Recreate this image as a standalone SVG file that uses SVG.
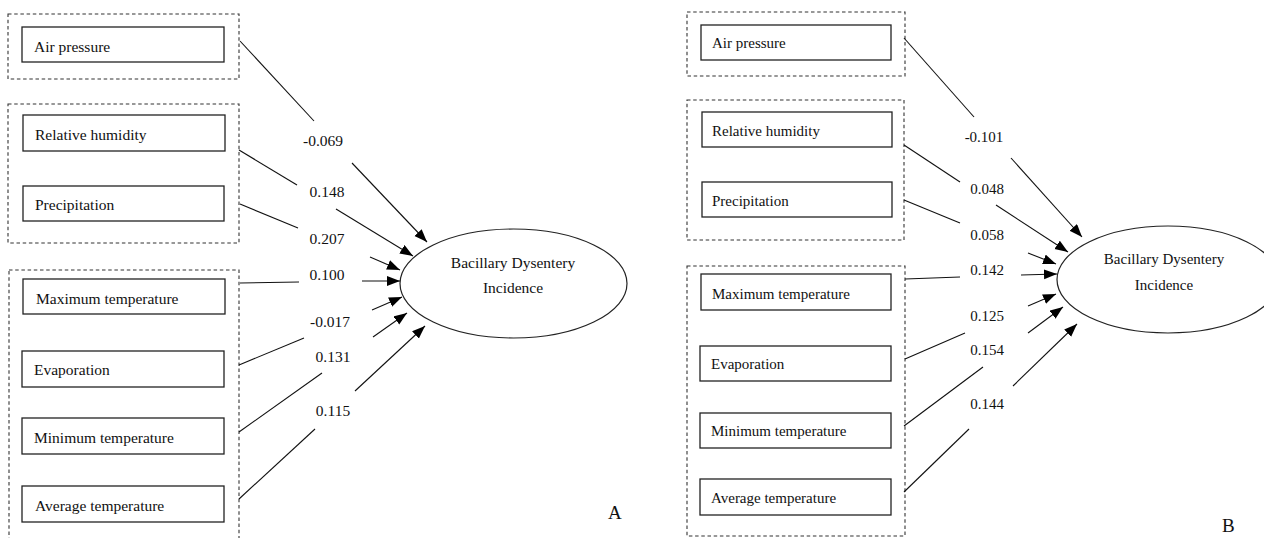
<svg xmlns="http://www.w3.org/2000/svg" width="1264" height="538" viewBox="0 0 1264 538">
<style>
  .bg{fill:#fff}
  .grp{fill:none;stroke:#333;stroke-width:1.1;stroke-dasharray:3.5 2.7}
  .box{fill:#fff;stroke:#222;stroke-width:1.3}
  .ell{fill:#fff;stroke:#222;stroke-width:1.2}
  .t{font-family:"Liberation Serif","Times New Roman",serif;fill:#111}
  .a{font-size:15.5px}
  .b{font-size:15px}
  .lbl{text-anchor:middle}
  .ln{stroke:#111;stroke-width:1.1;fill:none}
  .arr{stroke:#111;stroke-width:1.1;fill:none;marker-end:url(#ah)}
  .big{font-size:19px}
</style>
<defs>
  <marker id="ah" markerUnits="userSpaceOnUse" markerWidth="14" markerHeight="11" refX="13" refY="5" orient="auto">
    <path d="M0,0 L13,5 L0,10 z" fill="#000"/>
  </marker>
</defs>
<rect class="bg" x="0" y="0" width="1264" height="538"/>

<!-- Panel A groups -->
<g id="A-group-1"><rect class="grp" x="8" y="14" width="231" height="65"/></g>
<g id="A-group-2"><rect class="grp" x="8" y="104" width="231" height="139"/></g>
<g id="A-group-3"><rect class="grp" x="9" y="270" width="230" height="290"/></g>

<g id="A-air-pressure"><rect class="box" x="22" y="27" width="202" height="35"/><text class="t a" x="34" y="52">Air pressure</text></g>
<g id="A-relative-humidity"><rect class="box" x="23" y="115" width="202" height="36"/><text class="t a" x="35" y="140">Relative humidity</text></g>
<g id="A-precipitation"><rect class="box" x="23" y="186" width="201" height="35"/><text class="t a" x="35" y="210">Precipitation</text></g>
<g id="A-maximum-temperature"><rect class="box" x="23" y="279" width="202" height="35"/><text class="t a" x="36" y="304">Maximum temperature</text></g>
<g id="A-evaporation"><rect class="box" x="22" y="351" width="202" height="36"/><text class="t a" x="34" y="375">Evaporation</text></g>
<g id="A-minimum-temperature"><rect class="box" x="22" y="418" width="202" height="36"/><text class="t a" x="34" y="443">Minimum temperature</text></g>
<g id="A-average-temperature"><rect class="box" x="22" y="486" width="202" height="36"/><text class="t a" x="35" y="511">Average temperature</text></g>

<g id="A-outcome"><ellipse class="ell" cx="513.5" cy="283.5" rx="113.5" ry="54.5"/>
  <text class="t a lbl" x="513" y="268">Bacillary Dysentery</text>
  <text class="t a lbl" x="513" y="293">Incidence</text></g>

<g id="A-connectors">
  <line class="ln" x1="240" y1="41" x2="314" y2="121"/><line class="arr" x1="352" y1="163" x2="427" y2="242"/>
  <line class="ln" x1="239" y1="150" x2="297" y2="185"/><line class="arr" x1="336" y1="209" x2="413" y2="256"/>
  <line class="ln" x1="240" y1="204" x2="298" y2="228"/><line class="arr" x1="370" y1="257" x2="400" y2="270"/>
  <line class="ln" x1="240" y1="283" x2="299" y2="282"/><line class="arr" x1="362" y1="281" x2="400" y2="281"/>
  <line class="ln" x1="239" y1="365" x2="304" y2="338"/><line class="arr" x1="372" y1="310" x2="402" y2="297"/>
  <line class="ln" x1="239" y1="432" x2="322" y2="373"/><line class="arr" x1="373" y1="337" x2="407" y2="313"/>
  <line class="ln" x1="239" y1="499" x2="315" y2="429"/><line class="arr" x1="355" y1="391" x2="425" y2="326"/>
  <text class="t a lbl" x="323" y="146">-0.069</text>
  <text class="t a lbl" x="327" y="197">0.148</text>
  <text class="t a lbl" x="327" y="244">0.207</text>
  <text class="t a lbl" x="327" y="280">0.100</text>
  <text class="t a lbl" x="330" y="327">-0.017</text>
  <text class="t a lbl" x="333" y="362">0.131</text>
  <text class="t a lbl" x="333" y="416">0.115</text>
</g>
<text class="t big" x="608" y="519">A</text>

<!-- Panel B groups -->
<g id="B-group-1"><rect class="grp" x="687" y="12" width="218" height="64"/></g>
<g id="B-group-2"><rect class="grp" x="687" y="100" width="217" height="140"/></g>
<g id="B-group-3"><rect class="grp" x="687" y="266" width="218" height="270"/></g>

<g id="B-air-pressure"><rect class="box" x="701" y="25" width="190" height="35"/><text class="t b" x="712" y="48">Air pressure</text></g>
<g id="B-relative-humidity"><rect class="box" x="702" y="112" width="190" height="35"/><text class="t b" x="712" y="136">Relative humidity</text></g>
<g id="B-precipitation"><rect class="box" x="702" y="182" width="190" height="35"/><text class="t b" x="712" y="206">Precipitation</text></g>
<g id="B-maximum-temperature"><rect class="box" x="701" y="274" width="190" height="36"/><text class="t b" x="712" y="299">Maximum temperature</text></g>
<g id="B-evaporation"><rect class="box" x="700" y="346" width="191" height="35"/><text class="t b" x="711" y="369">Evaporation</text></g>
<g id="B-minimum-temperature"><rect class="box" x="700" y="413" width="191" height="35"/><text class="t b" x="711" y="436">Minimum temperature</text></g>
<g id="B-average-temperature"><rect class="box" x="700" y="479" width="191" height="36"/><text class="t b" x="711" y="503">Average temperature</text></g>

<g id="B-outcome"><ellipse class="ell" cx="1168" cy="279.5" rx="111" ry="53.5"/>
  <text class="t b lbl" x="1164" y="264">Bacillary Dysentery</text>
  <text class="t b lbl" x="1164" y="290">Incidence</text></g>

<g id="B-connectors">
  <line class="ln" x1="904" y1="38" x2="974" y2="117"/><line class="arr" x1="1011" y1="158" x2="1082" y2="237"/>
  <line class="ln" x1="904" y1="145" x2="960" y2="182"/><line class="arr" x1="996" y1="205" x2="1068" y2="252"/>
  <line class="ln" x1="904" y1="200" x2="960" y2="223"/><line class="arr" x1="1028" y1="253" x2="1056" y2="264"/>
  <line class="ln" x1="905" y1="279" x2="960" y2="277"/><line class="arr" x1="1021" y1="275" x2="1057" y2="274"/>
  <line class="ln" x1="905" y1="359" x2="965" y2="333"/><line class="arr" x1="1028" y1="306" x2="1056" y2="294"/>
  <line class="ln" x1="904" y1="426" x2="983" y2="367"/><line class="arr" x1="1028" y1="333" x2="1063" y2="307"/>
  <line class="ln" x1="904" y1="492" x2="969" y2="429"/><line class="arr" x1="1013" y1="386" x2="1077" y2="324"/>
  <text class="t b lbl" x="984" y="142">-0.101</text>
  <text class="t b lbl" x="987" y="194">0.048</text>
  <text class="t b lbl" x="987" y="240">0.058</text>
  <text class="t b lbl" x="987" y="275">0.142</text>
  <text class="t b lbl" x="987" y="321">0.125</text>
  <text class="t b lbl" x="987" y="355">0.154</text>
  <text class="t b lbl" x="987" y="409">0.144</text>
</g>
<text class="t big" x="1222" y="532">B</text>
</svg>
